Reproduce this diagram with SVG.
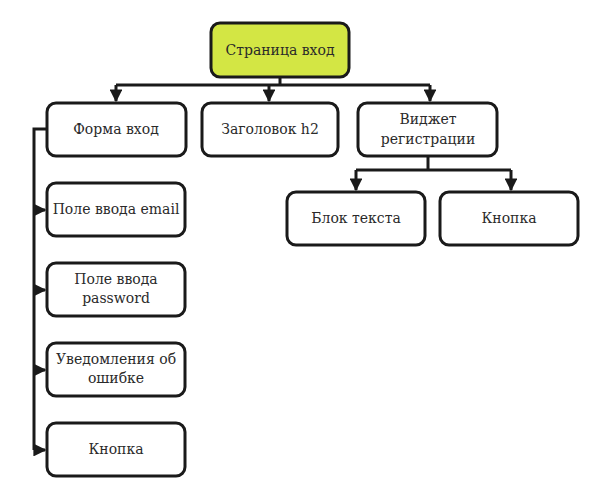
<svg xmlns="http://www.w3.org/2000/svg" width="595" height="493" viewBox="0 0 595 493">
<style>
.n{fill:#fff;stroke:#1a1a1a;stroke-width:3}
.t{font-family:"DejaVu Serif",serif;font-size:14px;fill:#2a2a2a;text-anchor:middle}
.c{fill:none;stroke:#1a1a1a;stroke-width:3}
</style>
<defs>
<marker id="a" viewBox="0 0 10 10" refX="9" refY="5" markerWidth="4.3" markerHeight="4.3" orient="auto" markerUnits="strokeWidth">
<path d="M0,0 L10,5 L0,10 Z" fill="#1a1a1a"/>
</marker>
</defs>
<g id="connectors">
<path class="c" d="M280,77 V85"/>
<path class="c" d="M116,85 H430"/>
<path class="c" d="M116,85 V101" marker-end="url(#a)"/>
<path class="c" d="M269,85 V101" marker-end="url(#a)"/>
<path class="c" d="M430,85 V101" marker-end="url(#a)"/>
<path class="c" d="M428,156 V170"/>
<path class="c" d="M356,170 H511"/>
<path class="c" d="M356,170 V190" marker-end="url(#a)"/>
<path class="c" d="M511,170 V190" marker-end="url(#a)"/>
<path class="c" d="M47,129 H34 V450"/>
<path class="c" d="M34,210 H45" marker-end="url(#a)"/>
<path class="c" d="M34,290 H45" marker-end="url(#a)"/>
<path class="c" d="M34,370 H45" marker-end="url(#a)"/>
<path class="c" d="M34,450 H45" marker-end="url(#a)"/>
</g>
<g id="n-root"><rect class="n" x="211" y="23" width="138" height="54" rx="9" style="fill:#d3e644"/><text class="t" x="280" y="55">Страница вход</text></g>
<g id="n-form"><rect class="n" x="47" y="103" width="139" height="53" rx="9"/><text class="t" x="116" y="134">Форма вход</text></g>
<g id="n-h2"><rect class="n" x="202" y="103" width="136" height="53" rx="9"/><text class="t" x="270" y="134">Заголовок h2</text></g>
<g id="n-widget"><rect class="n" x="358" y="103" width="139" height="53" rx="9"/><text class="t" x="428" y="124">Виджет</text><text class="t" x="428" y="144">регистрации</text></g>
<g id="n-text"><rect class="n" x="287" y="192" width="138" height="53" rx="9"/><text class="t" x="356" y="223">Блок текста</text></g>
<g id="n-btn2"><rect class="n" x="440" y="192" width="138" height="53" rx="9"/><text class="t" x="509" y="223">Кнопка</text></g>
<g id="n-email"><rect class="n" x="47" y="183" width="138" height="53" rx="9"/><text class="t" x="116" y="214">Поле ввода email</text></g>
<g id="n-pass"><rect class="n" x="47" y="263" width="138" height="53" rx="9"/><text class="t" x="116" y="284">Поле ввода</text><text class="t" x="116" y="303">password</text></g>
<g id="n-err"><rect class="n" x="47" y="343" width="138" height="53" rx="9"/><text class="t" x="116" y="364">Уведомления об</text><text class="t" x="116" y="383">ошибке</text></g>
<g id="n-btn1"><rect class="n" x="47" y="423" width="138" height="53" rx="9"/><text class="t" x="116" y="454">Кнопка</text></g>
</svg>
